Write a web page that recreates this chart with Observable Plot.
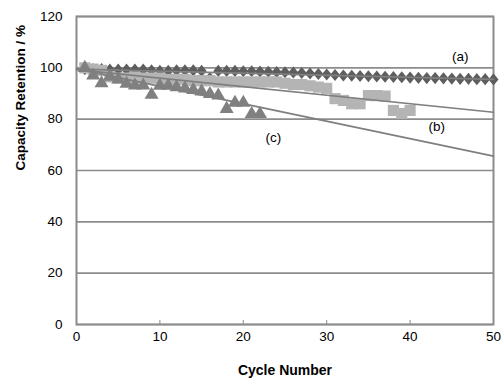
<!DOCTYPE html>
<html><head><meta charset="utf-8">
<script src="https://cdn.jsdelivr.net/npm/d3@7"></script>
<script src="https://cdn.jsdelivr.net/npm/@observablehq/plot@0.6"></script>
<style>html,body{margin:0;padding:0;background:#fff;overflow:hidden;}</style>
</head><body><div id="chart"></div>
<script>
// Series (a): diamonds, cycles 1-50
const seriesA = [99.5, 99.5, 99.5, 99.3, 99.3, 99.3, 99.3, 99.3, 99.0, 98.8,
                 98.8, 99.0, 99.0, 99.0, 98.8, 96.0, 98.8, 98.8, 98.8, 98.7,
                 98.7, 98.6, 98.5, 98.4, 98.3, 98.2, 98.0, 97.8, 97.6, 97.4,
                 97.2, 97.0, 96.9, 96.8, 96.7, 96.6, 96.5, 96.4, 96.3, 96.2,
                 96.1, 96.0, 96.0, 95.9, 95.8, 95.7, 95.7, 95.6, 95.6, 95.5];
// Series (b): squares, cycles 1-40
const seriesB = [100, 99.5, 99, 96.5, 96, 96, 96.5, 96, 96, 96,
                 95.5, 95.5, 95.5, 95, 95, 95, 94.5, 94.5, 94.5, 94.5,
                 94.5, 94.5, 94.5, 94.5, 94, 93.5, 93.5, 93, 92.5, 92,
                 88, 87.3, 86, 86, 89.2, 89.2, 89, 83.4, 82.2, 83.4];
// Series (c): triangles, cycles 1-22
const seriesC = [100, 97, 94, 96.5, 95.5, 93.8, 93.1, 93.1, 89.5, 93,
                 93, 92.5, 92, 91.4, 90.8, 89.8, 89.2, 84, 86.4, 86.4,
                 82, 82];
// Linear trend lines, values at cycle 0 and cycle 50
const trendX = [0, 50];
const trendA = [99.5, 95.5];
const trendB = [99.3, 82.7];
const trendC = [99.6, 65.6];
// Annotations
const labelText = ["(a)", "(b)", "(c)"];
const labelX = [46, 43.2, 23.6];
const labelY = [104.4, 77.1, 72.8];
// Ticks
const xTicks = [0, 10, 20, 30, 40, 50];
const yTicks = [0, 20, 40, 60, 80, 100, 120];
const xTitle = "Cycle Number";
const yTitle = "Capacity Retention / %";

const toPts = (vals) => vals.map((v, i) => ({x: i + 1, y: v}));
const dataA = toPts(seriesA), dataB = toPts(seriesB), dataC = toPts(seriesC);
const trend = (vals, name) => trendX.map((x, i) => ({x, y: vals[i], s: name}));
const trends = [...trend(trendA, "a"), ...trend(trendB, "b"), ...trend(trendC, "c")];
const labels = labelText.map((t, i) => ({t, x: labelX[i], y: labelY[i]}));

const diamond = {
  draw(ctx, size) {
    const w = Math.sqrt(size / 2.4), h = 1.2 * w;
    ctx.moveTo(0, -h); ctx.lineTo(w, 0); ctx.lineTo(0, h); ctx.lineTo(-w, 0); ctx.closePath();
  }
};

const font = "'Liberation Sans', Arial, sans-serif";
const chart = Plot.plot({
  width: 503, height: 379,
  marginLeft: 76, marginRight: 10, marginTop: 16, marginBottom: 55,
  style: {fontFamily: font, fontSize: "13.5px", color: "#000", background: "#fff", overflow: "visible"},
  x: {domain: [0, 50], label: null},
  y: {domain: [0, 120], label: null},
  marks: [
    Plot.ruleY(yTicks, {stroke: "#8c8c8c", strokeWidth: 1.6}),
    Plot.frame({stroke: "#8c8c8c", strokeWidth: 2}),
    Plot.axisX(xTicks, {tickSize: -4, stroke: "#8c8c8c", tickFormat: () => "", label: null}),
    Plot.axisX(xTicks, {tickSize: 0, tickPadding: 7, label: null}),
    Plot.axisY(yTicks, {tickSize: 0, tickPadding: 14, label: null}),
    Plot.dot(dataA, {x: "x", y: "y", symbol: diamond, r: 4.4, fill: "#5e5e5e", stroke: "none"}),
    Plot.dot(dataB, {x: "x", y: "y", symbol: "square", r: 6.3, fill: "#b4b4b4", stroke: "none"}),
    Plot.dot(dataC, {x: "x", y: "y", symbol: "triangle", r: 5.2, fill: "#808080", stroke: "none"}),
    Plot.line(trends, {x: "x", y: "y", z: "s", stroke: "#7f7f7f", strokeWidth: 1.6}),
    Plot.text(labels, {x: "x", y: "y", text: "t", fontSize: 13.5, fill: "#000"}),
    Plot.text([xTitle], {frameAnchor: "bottom", dy: 50, fontWeight: "bold", fontSize: 14, fill: "#000", letterSpacing: "0.6px"}),
    Plot.text([yTitle], {frameAnchor: "left", dx: -56, rotate: -90, fontWeight: "bold", fontSize: 13.5, fill: "#000"})
  ]
});
document.getElementById("chart").appendChild(chart);
</script>
</body></html>
